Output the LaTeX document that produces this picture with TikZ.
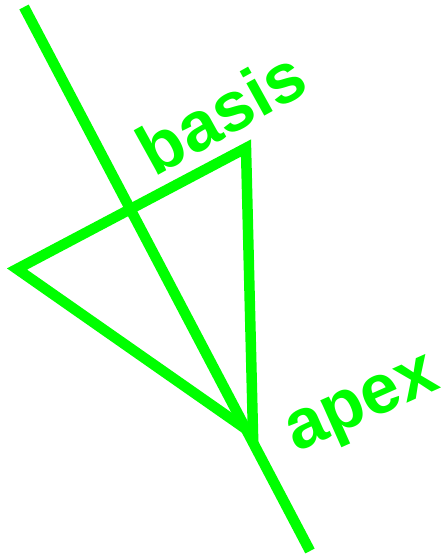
\documentclass[tikz,border=0pt]{standalone}
\usepackage{fontspec}
\setmainfont{Liberation Sans}
\definecolor{conegreen}{RGB}{0,255,0}
\tikzset{
  coneline/.style={conegreen,line width=10.5pt},
  conelabel/.style={anchor=base,text=conegreen,font=\bfseries\fontsize{70}{74}\selectfont,inner sep=0pt}
}
\begin{document}
\begin{tikzpicture}[x=1pt,y=1pt]
  \useasboundingbox (0,0) rectangle (445,554);
  \fill[white] (0,0) rectangle (445,554);

  % axis through the cone
  \coordinate (top) at (24,547);
  \coordinate (bottom) at (310,3);
  \draw[coneline] (top) -- (bottom);

  % cone outline
  \coordinate (left) at (17,285);
  \coordinate (rim) at (246,406);
  \coordinate (apex) at (253,120);
  \draw[coneline] (left) -- (rim) -- (apex) -- cycle;

  \node[conelabel,rotate=29] (basis) at (233,420) {basis};
  \node[conelabel,rotate=24] (apexlabel) at (369,134) {apex};
\end{tikzpicture}
\end{document}
